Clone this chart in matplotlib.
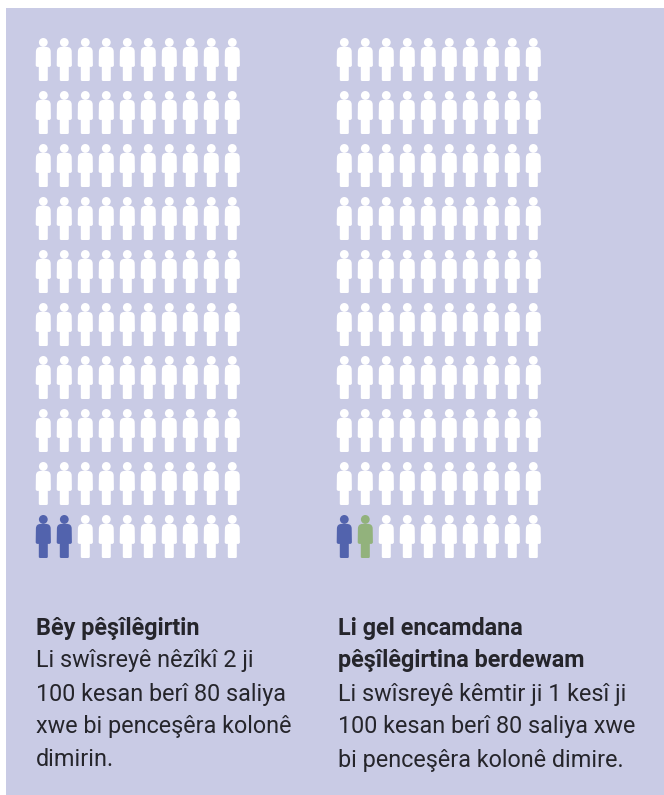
import numpy as np
import matplotlib
matplotlib.use("Agg")
import matplotlib.pyplot as plt
from matplotlib.path import Path

plt.rcParams['font.family'] = ['Roboto', 'DejaVu Sans']

# 10 x 10 people per panel, counted from the left of the bottom row
n_rows = 10
n_cols = 10
blue_counts = [2, 1]
green_counts = [0, 1]
titles = [["Bêy pêşîlêgirtin"], ["Li gel encamdana", "pêşîlêgirtina berdewam"]]
bodies = [["Li swîsreyê nêzîkî 2 ji", "100 kesan berî 80 saliya", "xwe bi penceşêra kolonê", "dimirin."],
          ["Li swîsreyê kêmtir ji 1 kesî ji", "100 kesan berî 80 saliya xwe", "bi penceşêra kolonê dimire."]]

BG = '#c9cbe5'
WHITE = '#ffffff'
BLUE = '#5263ad'
GREEN = '#92b27c'
INK = '#25252b'

W, H = 664, 795


def person_path():
    # drawn in px around the middle of the figure, y up, right half then mirrored
    M, L, C = Path.MOVETO, Path.LINETO, Path.CURVE3
    right = [(M, 0, -21.5), (L, 3.2, -21.5), (C, 4.5, -21.5), (C, 4.5, -20.2), (L, 4.5, -7.4),
             (L, 5.8, -7.4), (C, 7.6, -7.4), (C, 7.6, -5.6), (L, 7.4, 8.0), (C, 7.3, 12.6), (C, 2.5, 12.6), (L, 0, 12.6)]
    codes = [r[0] for r in right]
    verts = [(r[1], r[2]) for r in right]
    for c, (x, y) in zip(codes[1:][::-1], verts[::-1][1:]):
        codes.append(c)
        verts.append((-x, y))
    codes.append(Path.CLOSEPOLY)
    verts.append(verts[0])
    body = Path(verts, codes)
    head = Path.circle((0, 17.1), 4.4)
    return Path.make_compound_path(body, head)


fig = plt.figure(figsize=(W / 100, H / 100), dpi=100, facecolor='white')
bg = fig.add_axes([0, 0, 1, 1])
bg.set_xlim(0, W)
bg.set_ylim(H, 0)
bg.axis('off')
bg.fill_between([6, W], 8, H, color=BG, lw=0)

marker = person_path()
size = 43 * 0.72
lefts = [43.3, 344.3]
for p in range(2):
    # axes box spans the icon centres, one grid step is 21 x 53 px
    x0 = lefts[p]
    ax = fig.add_axes([x0 / W, 1 - 536.5 / H, 189 / W, 477 / H])
    ax.set_xlim(0, n_cols - 1)
    ax.set_ylim(0, n_rows - 1)
    ax.axis('off')
    xs, ys = np.meshgrid(np.arange(n_cols), np.arange(n_rows))
    colors = np.full(n_rows * n_cols, WHITE, dtype=object)
    colors[:blue_counts[p]] = BLUE
    colors[blue_counts[p]:blue_counts[p] + green_counts[p]] = GREEN
    ax.scatter(xs.ravel(), ys.ravel(), s=size ** 2, marker=marker, c=list(colors), linewidths=0, clip_on=False)

text_x = [36, 338]
title_y = 628
line_h = 33
fs = 16.8
for p in range(2):
    y = title_y
    for line in titles[p]:
        bg.text(text_x[p], y, line, fontsize=fs, fontweight='bold', color=INK, va='center', ha='left')
        y += line_h
    for line in bodies[p]:
        bg.text(text_x[p], y, line, fontsize=fs, color=INK, va='center', ha='left')
        y += line_h

fig.savefig('out.png', dpi=100, facecolor='white')
